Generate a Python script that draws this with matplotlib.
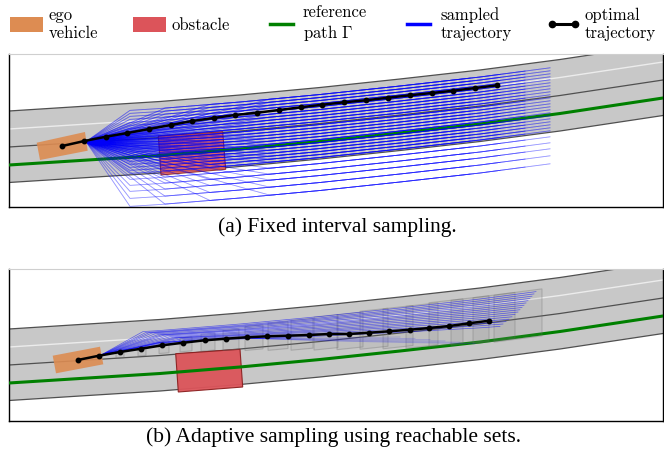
import numpy as np
import matplotlib
matplotlib.use("Agg")
import matplotlib.pyplot as plt
from matplotlib.patches import Polygon, Patch
from matplotlib.lines import Line2D

plt.rcParams["mathtext.fontset"] = "cm"
plt.rcParams["axes.formatter.use_mathtext"] = True

# reference path Gamma (centre of the lower lane), in pixel units of panel (a)
road_x = np.array([0, 9, 80, 160, 240, 320, 400, 480, 560, 663, 680])
road_y = np.array([165.5, 165, 160.5, 155.5, 149, 141.5, 133, 124, 113.5, 98, 95.3])

# lateral offsets of the road markings from the reference path
road_top_off = -54
road_light_off = -36
road_mid_off = -18
road_bot_off = 17.5

# panel (a): fixed interval sampling
ego_a = [(36.7, 142.7), (85, 132), (87.7, 150.7), (40, 160)]
obst_a = [(158.3, 136), (222.7, 131.7), (225.7, 169.3), (161, 175)]
opt_a_x = [62.3, 84.3, 106, 127.3, 149, 170.7, 192.3, 213.7, 235.3, 257, 279,
           300.7, 322.3, 344, 366, 388, 410, 431.7, 453.3, 475.3, 497.3]
opt_a_y = [146, 141, 136.7, 133, 129, 125, 121, 118, 115, 112.7, 110,
           107.3, 104.7, 102.3, 100.3, 97.7, 95.3, 93, 90.7, 88, 85.3]
fan_a_start = (86, -18.5)
# target offsets on the road and off the road (below the lower edge)
fan_a_offsets_road = [-47, -44, -41, -38, -35, -32, -29, -26, -23, -20, -17, -14,
                      -11, -8, -5, -2, 1, 4, 7, 10, 13, 16]
fan_a_offsets_off = [22, 28, 34, 41, 49]
fan_a_knees = [130, 165, 210, 270]
fan_a_ends = [470, 500, 525, 550]

# panel (b): adaptive sampling using reachable sets
ego_b = [(52.7, 137.7), (100, 128.7), (103.3, 146.3), (56, 155.3)]
obst_b = [(175.7, 135.7), (240, 131.3), (242.7, 169), (178.3, 174)]
opt_b_x = [77.7, 99, 120, 141.3, 162.3, 183.3, 204.7, 225.7, 246.7, 267.3, 288,
           308.7, 329.3, 349, 369.3, 389.3, 409.7, 429.3, 449.3, 469, 489.3]
opt_b_y = [142, 137.7, 134, 130.7, 127.3, 124.7, 122.3, 120.7, 119.3, 118.3, 117.7,
           117, 116, 116, 114.7, 113.3, 111.7, 110, 108, 105.3, 102.7]
reach_x = [120, 142, 164, 186, 208, 231, 254, 278, 302, 326, 350, 374, 398, 422, 446, 470, 494, 518]
reach_half_len = [4, 4, 5, 6, 7, 8, 9, 10, 11, 12, 13, 14, 15, 16, 17, 19, 21, 24]
reach_top = [-26, -28, -31, -34, -36, -38, -40, -41, -42, -43, -43, -44, -44, -44, -45, -45, -45, -45]
reach_bot = [-18, -19, -20, -20, -19, -18, -16, -14, -12, -10, -8, -6, -4, -2, -1, 0, 1, 2]
fan_b_start = (100, -21.7)
fan_b_knee_x = [143, 146, 149, 152, 155, 158, 161, 164, 167, 170, 173, 176, 179, 182, 185, 188]
fan_b_knee_d = [-43, -42, -41.5, -41, -40, -39, -38.5, -38, -37, -36, -35, -34.5, -34, -33, -32, -31]
fan_b_end_x = [536, 534, 532, 530, 528, 526, 524, 522, 520, 518, 515, 512, 509, 506, 503, 500]
fan_b_end_d = [-43, -41, -39, -37, -35, -33, -31, -29, -27, -25, -23, -21, -19, -17, -15, -13]
drop_b_end_x = [400, 415, 430, 445, 460, 475]
drop_b_end_d = [-14, -11, -8, -5, -2, 1]

C_EGO = "#dd8c52"
C_OBST = "#dc545a"
C_ROAD = "#c8c8c8"
C_REF = "#008000"


def road_at(x, d=0.0):
    return np.interp(x, road_x, road_y) + d


def road_path(points):
    # polyline through (x, offset) waypoints, bending with the road
    xs_all, ys_all = [], []
    for (x0, d0), (x1, d1) in zip(points[:-1], points[1:]):
        inner = road_x[(road_x > x0) & (road_x < x1)]
        xs = np.concatenate([[x0], inner, [x1]])
        ds = np.interp(xs, [x0, x1], [d0, d1])
        xs_all.extend(xs)
        ys_all.extend(road_at(xs) + ds)
    return xs_all, ys_all


def draw_road(ax):
    ax.fill_between(road_x, road_y + road_top_off, road_y + road_bot_off,
                    color=C_ROAD, lw=0, zorder=1)
    for off in (road_top_off, road_mid_off, road_bot_off):
        ax.plot(road_x, road_y + off, color="#505050", lw=0.9, zorder=1.5)
    ax.plot(road_x, road_y + road_light_off, color="#ececec", lw=1.0, zorder=1.5)
    ax.plot(road_x, road_y, color=C_REF, lw=2.2, zorder=3)


def style_axes(ax, ylim):
    ax.set_xlim(9, 663)
    ax.set_ylim(*ylim)
    ax.set_xticks([])
    ax.set_yticks([])
    for s in ("left", "right", "bottom"):
        ax.spines[s].set_color("black")
        ax.spines[s].set_linewidth(1.0)
    ax.spines["top"].set_color("#cfcfcf")


fig = plt.figure(figsize=(6.64, 4.51), dpi=100)
ax_a = fig.add_axes([9 / 664, 1 - 207 / 451, 654 / 664, 153 / 451])
ax_b = fig.add_axes([9 / 664, 1 - 421 / 451, 654 / 664, 152 / 451])

# ---- panel (a)
draw_road(ax_a)
ax_a.add_patch(Polygon(obst_a, closed=True, fc=C_OBST, ec="#8b2020", lw=0.8, alpha=0.85, zorder=2))
ax_a.add_patch(Polygon(ego_a, closed=True, fc=C_EGO, ec="none", alpha=0.9, zorder=4))
for offsets, alpha in ((fan_a_offsets_road, 0.16), (fan_a_offsets_off, 0.12)):
    for d in offsets:
        for kx in fan_a_knees:
            for ex in fan_a_ends:
                xs, ys = road_path([fan_a_start, (kx, d), (ex, d)])
                ax_a.plot(xs, ys, color="blue", lw=0.6, alpha=alpha, zorder=5)
ax_a.plot(opt_a_x, opt_a_y, color="black", lw=1.8, marker="o", ms=3.2, zorder=6)
style_axes(ax_a, (207, 54))

# ---- panel (b)
draw_road(ax_b)
ax_b.add_patch(Polygon(obst_b, closed=True, fc=C_OBST, ec="#8b2020", lw=0.8, alpha=0.95, zorder=2))
ax_b.add_patch(Polygon(ego_b, closed=True, fc=C_EGO, ec="none", alpha=0.9, zorder=3.2))
for cx, h, top, bot in zip(reach_x, reach_half_len, reach_top, reach_bot):
    x0, x1 = cx - h, cx + h
    box = [(x0, road_at(x0, top)), (x1, road_at(x1, top)),
           (x1, road_at(x1, bot)), (x0, road_at(x0, bot))]
    ax_b.add_patch(Polygon(box, closed=True, fc=(0.5, 0.5, 0.5, 0.12),
                           ec=(0.4, 0.4, 0.4, 0.3), lw=0.8, zorder=3.5))
for kx, kd, ex, ed in zip(fan_b_knee_x, fan_b_knee_d, fan_b_end_x, fan_b_end_d):
    xs, ys = road_path([fan_b_start, (kx, kd), (ex, ed)])
    ax_b.plot(xs, ys, color="blue", lw=0.5, alpha=0.55, zorder=5)
for ex, ed in zip(drop_b_end_x, drop_b_end_d):
    xs, ys = road_path([fan_b_start, (160, -31), (240, -29), (ex, ed)])
    ax_b.plot(xs, ys, color="blue", lw=0.6, alpha=0.2, zorder=5)
ax_b.plot(opt_b_x, opt_b_y, color="black", lw=1.8, marker="o", ms=3.2, zorder=6)
style_axes(ax_b, (203, 51))

# ---- legend and captions
handles = [
    Patch(fc=C_EGO, ec="none"),
    Patch(fc=C_OBST, ec="none"),
    Line2D([], [], color=C_REF, lw=2.5),
    Line2D([], [], color="blue", lw=2.5),
    Line2D([], [], color="black", lw=2.2, marker="o", ms=4.5),
]
labels = ["ego\nvehicle", "obstacle", "reference\npath $\\Gamma$",
          "sampled\ntrajectory", "optimal\ntrajectory"]
fig.legend(handles, labels, loc="center left", bbox_to_anchor=(10 / 664, 1 - 24 / 451),
           ncol=5, frameon=False, prop={"family": "cmr10", "size": 12},
           handlelength=2.0, handleheight=1.0, handletextpad=0.3,
           columnspacing=2.1, borderpad=0, borderaxespad=0, numpoints=2)

fig.text(337 / 664, 1 - 227 / 451, "(a) Fixed interval sampling.", ha="center", va="center",
         family="Liberation Serif", fontsize=15.5)
fig.text(333.5 / 664, 1 - 437 / 451, "(b) Adaptive sampling using reachable sets.",
         ha="center", va="center", family="Liberation Serif", fontsize=15.5)

fig.savefig("out.png", dpi=100)
